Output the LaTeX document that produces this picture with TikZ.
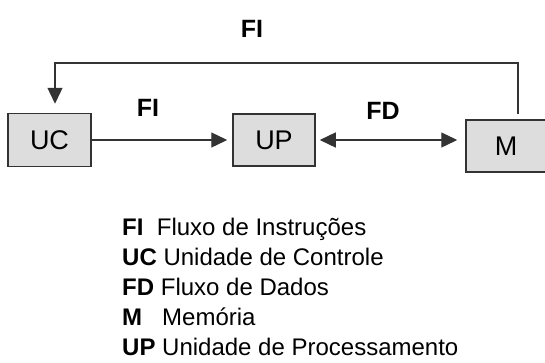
\documentclass[tikz,border=0pt]{standalone}
\usepackage{fontspec}
\setmainfont{Liberation Sans}
\usepackage{tikz}
\usetikzlibrary{arrows.meta,positioning}
\definecolor{caixa}{HTML}{DDDDDD}
\definecolor{borda}{HTML}{333333}
\tikzset{
  bloco/.style={ draw=borda, fill=caixa, line width=1.5pt, minimum width=83pt, minimum height=53pt, font=\fontsize{27}{30}\selectfont }
}
\tikzset{
  rotulo/.style={ font=\bfseries\fontsize{25}{28}\selectfont }
}
\tikzset{
  legenda/.style={ anchor=base west, inner sep=0pt, font=\fontsize{24}{26}\selectfont }
}
\tikzset{
  fluxo/.style={ -{Triangle[length=16pt, width=15pt]}, line width=1.3pt, draw=borda }
}

\begin{document}
\begin{tikzpicture}[x=1pt, y=-1pt]
      \useasboundingbox (0, 0) rectangle (545, 362);

      \node[bloco] (UC) at (49.5, 140) {UC};
      \node[bloco, minimum width=82pt, minimum height=52pt] (UP) at (274, 140) {UP};
      \node[bloco, minimum width=80pt, minimum height=52pt] (M) at (506, 146) {M};
      \coordinate (topo) at (286, 63);

      \draw[fluxo, shorten >=5pt] (UC.east) -- (UP.west);
      \draw[fluxo, {Triangle[length=16pt, width=15pt]}-{Triangle[length=16pt, width=15pt]}, shorten <=4pt, shorten >=8pt] (UP.east) -- (UP.east -| M.west);
      \draw[fluxo, shorten <=5pt, shorten >=9pt] ([xshift=12pt]M.north) |- (topo) -| ([xshift=5.5pt]UC.north);

      \node[rotulo] (fi1) at (148, 108) {FI};
      \node[rotulo] (fd) at (383, 111) {FD};
      \node[rotulo] (fi2) at (252, 29) {FI};

      \node[legenda] (l1) at (122, 235) {\textbf{FI}\ \ Fluxo de Instruções};
      \node[legenda] (l2) at (122, 265) {\textbf{UC} Unidade de Controle};
      \node[legenda] (l3) at (122, 295) {\textbf{FD} Fluxo de Dados};
      \node[legenda] (l4) at (122, 325) {\textbf{M}\ \ \ Memória};
      \node[legenda] (l5) at (122, 355) {\textbf{UP} Unidade de Processamento};
    \end{tikzpicture}
\end{document}
